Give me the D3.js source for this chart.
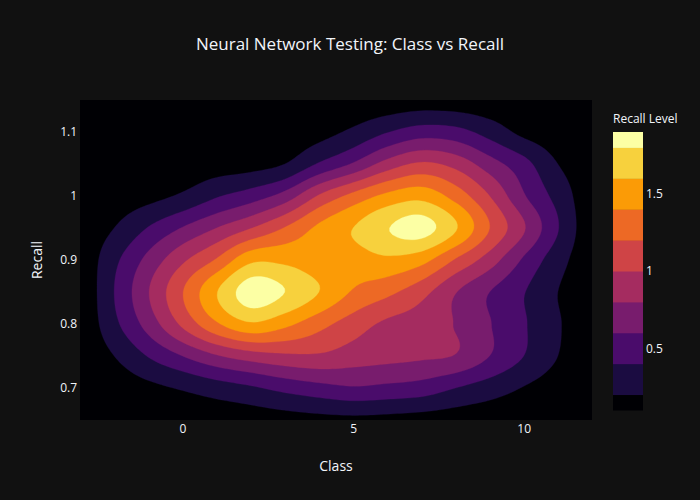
<!DOCTYPE html>
<html>
<head>
<meta charset="utf-8">
<script src="https://cdn.jsdelivr.net/npm/d3@7"></script>
<style>
  html, body { margin: 0; padding: 0; background: #111111; }
  svg { display: block; font-family: "Open Sans", "Noto Sans", sans-serif; }
</style>
</head>
<body>
<svg id="chart" width="700" height="500"></svg>
<script>
// ---- data ----
const classValues  = [-3, -2, -1, 0, 1, 2, 3, 4, 5, 6, 7, 8, 9, 10, 11, 12];
const recallValues = [0.65, 0.70, 0.75, 0.80, 0.85, 0.90, 0.95, 1.00, 1.05, 1.10, 1.15];
// one row per recall value (bottom to top), one column per class value
const recallLevel = [
  [0.02,0.03,0.05,0.07,0.09,0.11,0.13,0.15,0.16,0.15,0.13,0.11,0.08,0.05,0.03,0.02], // 0.65
  [0.03,0.08,0.15,0.22,0.30,0.37,0.46,0.53,0.58,0.55,0.51,0.40,0.30,0.19,0.10,0.04], // 0.70
  [0.04,0.20,0.41,0.60,0.78,0.90,0.96,0.97,0.90,0.86,0.83,0.79,0.60,0.40,0.20,0.05], // 0.75
  [0.05,0.35,0.68,1.04,1.37,1.57,1.45,1.27,1.10,0.96,0.90,0.79,0.61,0.42,0.22,0.06], // 0.80
  [0.05,0.40,0.79,1.19,1.59,1.90,1.80,1.60,1.38,1.25,1.07,0.81,0.60,0.41,0.20,0.06], // 0.85
  [0.06,0.35,0.66,0.96,1.22,1.55,1.55,1.48,1.50,1.56,1.47,1.18,0.90,0.57,0.28,0.07], // 0.90
  [0.06,0.20,0.41,0.61,0.80,0.99,1.21,1.44,1.60,1.79,1.88,1.62,1.20,0.82,0.41,0.07], // 0.95
  [0.05,0.09,0.14,0.23,0.38,0.50,0.68,1.02,1.26,1.45,1.53,1.32,1.00,0.62,0.33,0.07], // 1.00
  [0.04,0.05,0.06,0.08,0.11,0.13,0.20,0.42,0.62,0.88,1.03,0.93,0.69,0.47,0.20,0.07], // 1.05
  [0.03,0.03,0.04,0.05,0.06,0.07,0.09,0.13,0.24,0.39,0.50,0.47,0.32,0.15,0.08,0.04], // 1.10
  [0.02,0.02,0.02,0.02,0.03,0.03,0.04,0.05,0.07,0.08,0.10,0.09,0.07,0.05,0.03,0.02]  // 1.15
];
const contourLevels = [0.2, 0.4, 0.6, 0.8, 1.0, 1.2, 1.4, 1.6, 1.8];
const bandColors = ['#000004','#1b0c41','#4a0c6b','#781c6d','#a52c60',
                    '#cf4446','#ed6925','#fb9b06','#f7d13d','#fcffa4'];
const xTicks  = [0, 5, 10];
const yTicks  = [0.7, 0.8, 0.9, 1, 1.1];
const cbTicks = [0.5, 1, 1.5];
const titleText = "Neural Network Testing: Class vs Recall";
const xTitle = "Class", yTitle = "Recall", cbTitle = "Recall Level";

// ---- layout ----
const svg = d3.select("#chart");
const plot = {left: 80, right: 592, top: 100, bottom: 420};
const txtColor = "#f2f5fa";

const xScale = d3.scaleLinear()
  .domain([classValues[0], classValues[classValues.length - 1]])
  .range([plot.left, plot.right]);
const yScale = d3.scaleLinear()
  .domain([recallValues[0], recallValues[recallValues.length - 1]])
  .range([plot.bottom, plot.top]);

svg.append("rect").attr("width", 700).attr("height", 500).attr("fill", "#111111");

// ---- smooth rendering grid (bicubic resampling of the data grid) ----
const nx = classValues.length, ny = recallValues.length;
const F = 10;
const nxF = (nx - 1) * F + 1, nyF = (ny - 1) * F + 1;
function cub(p0, p1, p2, p3, t) {
  return 0.5 * (2 * p1 + (-p0 + p2) * t + (2 * p0 - 5 * p1 + 4 * p2 - p3) * t * t
    + (-p0 + 3 * p1 - 3 * p2 + p3) * t * t * t);
}
function cl(v, n) { return Math.max(0, Math.min(n - 1, v)); }
function sample(fx, fy) {
  let ix = Math.floor(fx), tx = fx - ix;
  if (ix >= nx - 1) { ix = nx - 2; tx = 1; }
  let iy = Math.floor(fy), ty = fy - iy;
  if (iy >= ny - 1) { iy = ny - 2; ty = 1; }
  const rows = [];
  for (let k = -1; k <= 2; k++) {
    const r = recallLevel[cl(iy + k, ny)];
    rows.push(cub(r[cl(ix - 1, nx)], r[cl(ix, nx)], r[cl(ix + 1, nx)], r[cl(ix + 2, nx)], tx));
  }
  return cub(rows[0], rows[1], rows[2], rows[3], ty);
}
const fine = new Array(nxF * nyF);
for (let j = 0; j < nyF; j++) {
  const fy = (ny - 1) - j / F;      // j = 0 is the top row
  for (let i = 0; i < nxF; i++) fine[j * nxF + i] = sample(i / F, fy);
}
const dxStep = classValues[1] - classValues[0];
const dyStep = recallValues[1] - recallValues[0];
const proj = d3.geoTransform({
  point: function (cx, cy) {
    const xv = classValues[0] + (cx - 0.5) / F * dxStep;
    const yv = recallValues[ny - 1] - (cy - 0.5) / F * dyStep;
    this.stream.point(xScale(xv), yScale(yv));
  }
});
const path = d3.geoPath(proj);
const contours = d3.contours().size([nxF, nyF]).thresholds(contourLevels)(fine);

svg.append("clipPath").attr("id", "plotclip").append("rect")
  .attr("x", plot.left).attr("y", plot.top)
  .attr("width", plot.right - plot.left).attr("height", plot.bottom - plot.top);

const g = svg.append("g").attr("clip-path", "url(#plotclip)");
g.append("rect")
  .attr("x", plot.left).attr("y", plot.top)
  .attr("width", plot.right - plot.left).attr("height", plot.bottom - plot.top)
  .attr("fill", bandColors[0]);
g.selectAll("path.band").data(contours).join("path")
  .attr("class", "band")
  .attr("d", path)
  .attr("fill", (d, i) => bandColors[i + 1])
  .attr("stroke", (d, i) => bandColors[i + 1])
  .attr("stroke-width", 0.3);

// ---- axes ----
const xAxis = d3.axisBottom(xScale).tickValues(xTicks).tickSize(0).tickPadding(4)
  .tickFormat(d3.format("d"));
const gx = svg.append("g").attr("transform", `translate(0,${plot.bottom})`).call(xAxis);
gx.select(".domain").remove();
gx.selectAll("text").attr("fill", txtColor).attr("font-size", 12)
  .attr("font-family", '"Open Sans", sans-serif');

const yAxis = d3.axisLeft(yScale).tickValues(yTicks).tickSize(0).tickPadding(3)
  .tickFormat(d => String(d));
const gy = svg.append("g").attr("transform", `translate(${plot.left},0)`).call(yAxis);
gy.select(".domain").remove();
gy.selectAll("text").attr("fill", txtColor).attr("font-size", 12)
  .attr("font-family", '"Open Sans", sans-serif');

// ---- titles ----
svg.append("text").attr("x", 350).attr("y", 50).attr("text-anchor", "middle")
  .attr("fill", txtColor).attr("font-size", 17).text(titleText);
svg.append("text").attr("x", (plot.left + plot.right) / 2).attr("y", 471)
  .attr("text-anchor", "middle").attr("fill", txtColor).attr("font-size", 14).text(xTitle);
svg.append("text").attr("transform", `translate(42,${(plot.top + plot.bottom) / 2}) rotate(-90)`)
  .attr("text-anchor", "middle").attr("fill", txtColor).attr("font-size", 14).text(yTitle);

// ---- colorbar ----
const step = contourLevels[1] - contourLevels[0];
const cbMin = contourLevels[0] - step / 2;
const cbMax = contourLevels[contourLevels.length - 1] + step / 2;
const cbScale = d3.scaleLinear().domain([cbMin, cbMax]).range([410, 132]);
const cbEdges = [cbMin, ...contourLevels, cbMax];
const cb = svg.append("g");
cb.selectAll("rect").data(bandColors).join("rect")
  .attr("x", 613).attr("width", 30)
  .attr("y", (d, i) => cbScale(cbEdges[i + 1]))
  .attr("height", (d, i) => cbScale(cbEdges[i]) - cbScale(cbEdges[i + 1]) + 0.5)
  .attr("fill", d => d);
const cbAxis = d3.axisRight(cbScale).tickValues(cbTicks).tickSize(0).tickPadding(3)
  .tickFormat(d => String(d));
const gcb = svg.append("g").attr("transform", "translate(643,0)").call(cbAxis);
gcb.select(".domain").remove();
gcb.selectAll("text").attr("fill", txtColor).attr("font-size", 12)
  .attr("font-family", '"Open Sans", sans-serif');
svg.append("text").attr("x", 613).attr("y", 123).attr("fill", txtColor)
  .attr("font-size", 12).text(cbTitle);
</script>
</body>
</html>
